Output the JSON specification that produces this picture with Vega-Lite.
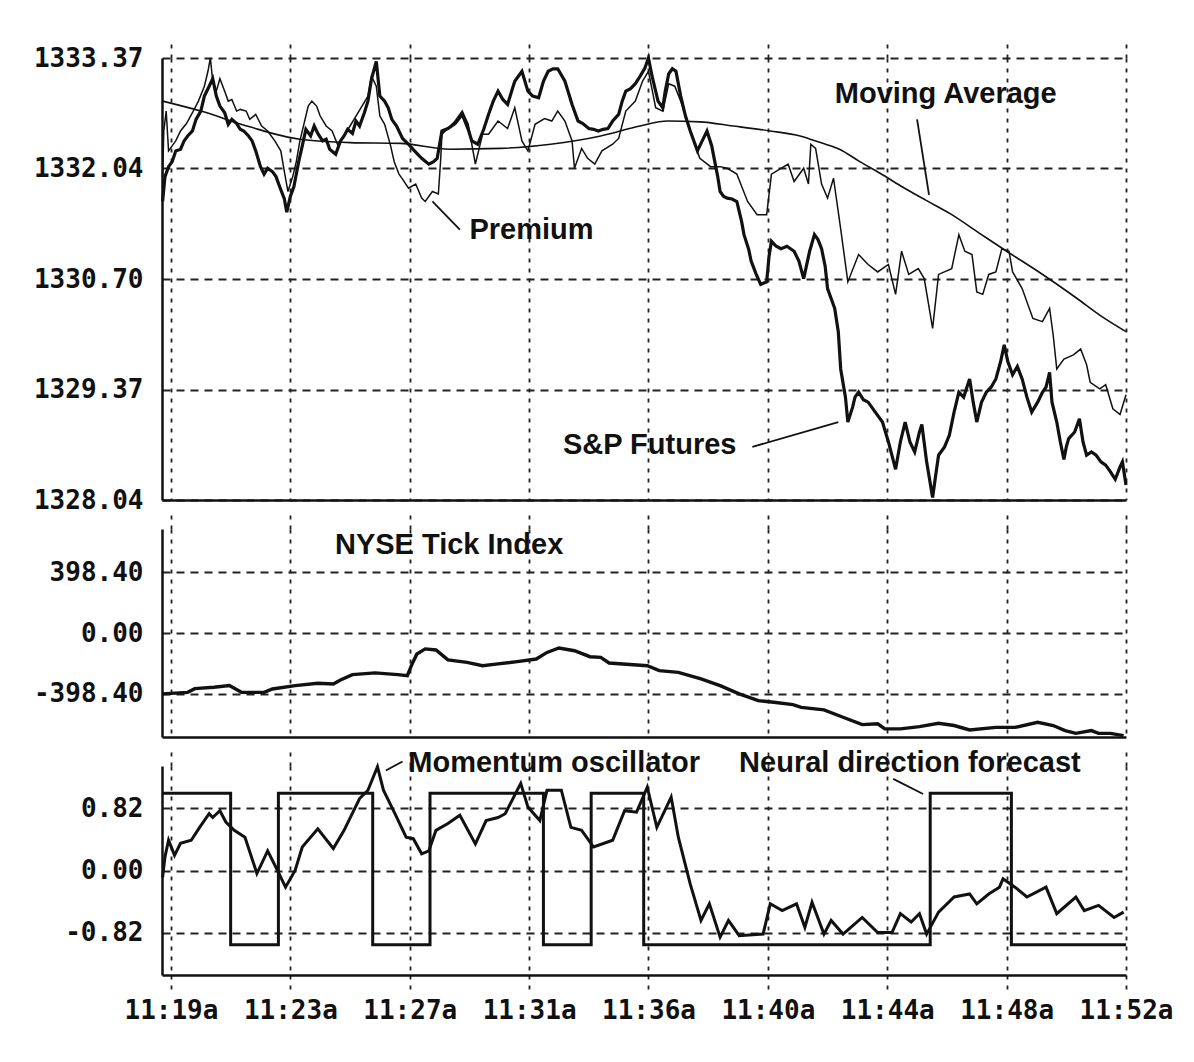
{
  "$schema": "https://vega.github.io/schema/vega-lite/v6.json",
  "background": "white",
  "padding": {"left": 33, "top": 41, "right": 10, "bottom": 10},
  "bounds": "flush",
  "spacing": 29,
  "config": {
    "view": {"stroke": null},
    "axis": {"domainColor": "#111", "domainWidth": 2.5, "gridColor": "#222", "gridWidth": 1.8, "labelFont": "DejaVu Sans Mono", "labelFontSize": 26, "labelFontWeight": "bold", "labelColor": "#111"}
  },
  "datasets": {
    "sp": [{"x":-7,"v":1331.64},{"x":-5,"v":1331.94},{"x":-2,"v":1332.06},{"x":1,"v":1332.12},{"x":4,"v":1332.25},{"x":8,"v":1332.27},{"x":11,"v":1332.37},{"x":14,"v":1332.43},{"x":18,"v":1332.49},{"x":21,"v":1332.63},{"x":25,"v":1332.73},{"x":28,"v":1332.91},{"x":31,"v":1333.0},{"x":35,"v":1333.12},{"x":38,"v":1332.91},{"x":41,"v":1332.79},{"x":45,"v":1332.71},{"x":48,"v":1332.57},{"x":51,"v":1332.63},{"x":55,"v":1332.58},{"x":58,"v":1332.51},{"x":61,"v":1332.49},{"x":65,"v":1332.43},{"x":68,"v":1332.37},{"x":71,"v":1332.25},{"x":75,"v":1332.06},{"x":78,"v":1331.97},{"x":81,"v":1332.04},{"x":85,"v":1332.0},{"x":88,"v":1331.94},{"x":91,"v":1331.82},{"x":95,"v":1331.67},{"x":97,"v":1331.51},{"x":100,"v":1331.7},{"x":103,"v":1331.82},{"x":107,"v":1332.12},{"x":110,"v":1332.31},{"x":113,"v":1332.51},{"x":117,"v":1332.43},{"x":120,"v":1332.55},{"x":123,"v":1332.46},{"x":127,"v":1332.37},{"x":130,"v":1332.39},{"x":133,"v":1332.27},{"x":138,"v":1332.21},{"x":142,"v":1332.37},{"x":145,"v":1332.43},{"x":148,"v":1332.51},{"x":152,"v":1332.46},{"x":155,"v":1332.61},{"x":158,"v":1332.55},{"x":162,"v":1332.71},{"x":165,"v":1332.85},{"x":168,"v":1333.12},{"x":172,"v":1333.33},{"x":175,"v":1332.91},{"x":179,"v":1332.85},{"x":182,"v":1332.77},{"x":185,"v":1332.63},{"x":189,"v":1332.55},{"x":194,"v":1332.4},{"x":199,"v":1332.33},{"x":204,"v":1332.25},{"x":210,"v":1332.16},{"x":216,"v":1332.09},{"x":220,"v":1332.12},{"x":223,"v":1332.16},{"x":227,"v":1332.49},{"x":232,"v":1332.52},{"x":238,"v":1332.58},{"x":244,"v":1332.69},{"x":249,"v":1332.51},{"x":252,"v":1332.37},{"x":257,"v":1332.33},{"x":262,"v":1332.51},{"x":266,"v":1332.69},{"x":270,"v":1332.85},{"x":274,"v":1332.97},{"x":278,"v":1332.87},{"x":282,"v":1332.81},{"x":286,"v":1333.0},{"x":288,"v":1333.09},{"x":294,"v":1333.21},{"x":299,"v":1332.97},{"x":303,"v":1332.91},{"x":308,"v":1332.89},{"x":312,"v":1333.09},{"x":316,"v":1333.21},{"x":320,"v":1333.24},{"x":324,"v":1333.24},{"x":330,"v":1333.09},{"x":336,"v":1332.81},{"x":341,"v":1332.61},{"x":345,"v":1332.58},{"x":350,"v":1332.52},{"x":354,"v":1332.51},{"x":358,"v":1332.49},{"x":362,"v":1332.51},{"x":366,"v":1332.52},{"x":370,"v":1332.61},{"x":375,"v":1332.69},{"x":378,"v":1332.85},{"x":381,"v":1332.97},{"x":385,"v":1333.0},{"x":389,"v":1333.06},{"x":393,"v":1333.15},{"x":397,"v":1333.25},{"x":400,"v":1333.37},{"x":403,"v":1333.15},{"x":406,"v":1332.97},{"x":408,"v":1332.85},{"x":412,"v":1332.77},{"x":414,"v":1332.97},{"x":417,"v":1333.18},{"x":420,"v":1333.24},{"x":423,"v":1333.21},{"x":427,"v":1332.91},{"x":431,"v":1332.67},{"x":435,"v":1332.49},{"x":441,"v":1332.25},{"x":445,"v":1332.37},{"x":449,"v":1332.49},{"x":453,"v":1332.31},{"x":455,"v":1332.16},{"x":458,"v":1331.94},{"x":460,"v":1331.76},{"x":463,"v":1331.7},{"x":466,"v":1331.68},{"x":470,"v":1331.67},{"x":474,"v":1331.64},{"x":478,"v":1331.4},{"x":480,"v":1331.24},{"x":484,"v":1331.06},{"x":486,"v":1330.92},{"x":490,"v":1330.77},{"x":494,"v":1330.64},{"x":499,"v":1330.67},{"x":501,"v":1330.98},{"x":503,"v":1331.16},{"x":507,"v":1331.1},{"x":511,"v":1331.07},{"x":516,"v":1331.1},{"x":522,"v":1331.04},{"x":526,"v":1330.92},{"x":530,"v":1330.71},{"x":535,"v":1331.04},{"x":539,"v":1331.24},{"x":542,"v":1331.18},{"x":545,"v":1331.07},{"x":548,"v":1330.86},{"x":550,"v":1330.59},{"x":554,"v":1330.43},{"x":556,"v":1330.35},{"x":559,"v":1330.07},{"x":561,"v":1329.62},{"x":565,"v":1329.28},{"x":567,"v":1328.98},{"x":571,"v":1329.16},{"x":573,"v":1329.28},{"x":576,"v":1329.34},{"x":580,"v":1329.25},{"x":584,"v":1329.22},{"x":590,"v":1329.1},{"x":596,"v":1328.98},{"x":601,"v":1328.74},{"x":607,"v":1328.41},{"x":611,"v":1328.74},{"x":615,"v":1328.98},{"x":619,"v":1328.74},{"x":623,"v":1328.62},{"x":627,"v":1328.86},{"x":629,"v":1328.95},{"x":633,"v":1328.5},{"x":638,"v":1328.07},{"x":641,"v":1328.38},{"x":643,"v":1328.58},{"x":648,"v":1328.68},{"x":652,"v":1328.82},{"x":656,"v":1329.1},{"x":660,"v":1329.34},{"x":664,"v":1329.28},{"x":669,"v":1329.5},{"x":672,"v":1329.22},{"x":675,"v":1328.98},{"x":679,"v":1329.22},{"x":683,"v":1329.34},{"x":687,"v":1329.4},{"x":691,"v":1329.5},{"x":695,"v":1329.71},{"x":698,"v":1329.91},{"x":701,"v":1329.71},{"x":705,"v":1329.55},{"x":709,"v":1329.65},{"x":713,"v":1329.5},{"x":717,"v":1329.28},{"x":721,"v":1329.1},{"x":726,"v":1329.22},{"x":730,"v":1329.34},{"x":733,"v":1329.4},{"x":736,"v":1329.58},{"x":738,"v":1329.22},{"x":742,"v":1328.98},{"x":745,"v":1328.74},{"x":748,"v":1328.53},{"x":750,"v":1328.68},{"x":752,"v":1328.78},{"x":757,"v":1328.86},{"x":761,"v":1329.02},{"x":764,"v":1328.74},{"x":767,"v":1328.58},{"x":771,"v":1328.62},{"x":775,"v":1328.58},{"x":779,"v":1328.5},{"x":783,"v":1328.46},{"x":787,"v":1328.38},{"x":791,"v":1328.29},{"x":795,"v":1328.44},{"x":797,"v":1328.5},{"x":800,"v":1328.22}],
    "pr": [{"x":-7,"v":1331.94},{"x":-6,"v":1332.49},{"x":-4,"v":1332.73},{"x":-2,"v":1332.25},{"x":1,"v":1332.31},{"x":4,"v":1332.37},{"x":8,"v":1332.49},{"x":13,"v":1332.58},{"x":18,"v":1332.71},{"x":23,"v":1332.85},{"x":28,"v":1333.03},{"x":31,"v":1333.21},{"x":33,"v":1333.37},{"x":35,"v":1333.09},{"x":38,"v":1332.97},{"x":41,"v":1333.12},{"x":45,"v":1332.97},{"x":48,"v":1332.85},{"x":51,"v":1332.87},{"x":55,"v":1332.73},{"x":58,"v":1332.75},{"x":63,"v":1332.73},{"x":66,"v":1332.63},{"x":71,"v":1332.69},{"x":76,"v":1332.55},{"x":81,"v":1332.49},{"x":87,"v":1332.37},{"x":92,"v":1332.25},{"x":95,"v":1332.0},{"x":98,"v":1331.76},{"x":102,"v":1331.94},{"x":105,"v":1332.12},{"x":108,"v":1332.37},{"x":112,"v":1332.61},{"x":115,"v":1332.79},{"x":118,"v":1332.85},{"x":122,"v":1332.79},{"x":125,"v":1332.67},{"x":130,"v":1332.55},{"x":135,"v":1332.49},{"x":140,"v":1332.31},{"x":145,"v":1332.43},{"x":150,"v":1332.55},{"x":155,"v":1332.67},{"x":160,"v":1332.79},{"x":165,"v":1332.91},{"x":168,"v":1333.15},{"x":172,"v":1333.03},{"x":175,"v":1332.67},{"x":179,"v":1332.57},{"x":184,"v":1332.31},{"x":187,"v":1332.12},{"x":191,"v":1331.97},{"x":194,"v":1331.91},{"x":199,"v":1331.8},{"x":205,"v":1331.85},{"x":210,"v":1331.68},{"x":213,"v":1331.64},{"x":219,"v":1331.76},{"x":224,"v":1331.73},{"x":226,"v":1332.16},{"x":227,"v":1332.45},{"x":232,"v":1332.52},{"x":238,"v":1332.61},{"x":244,"v":1332.73},{"x":249,"v":1332.57},{"x":255,"v":1332.09},{"x":261,"v":1332.45},{"x":266,"v":1332.45},{"x":274,"v":1332.61},{"x":282,"v":1332.52},{"x":288,"v":1332.77},{"x":294,"v":1332.37},{"x":299,"v":1332.25},{"x":305,"v":1332.57},{"x":313,"v":1332.64},{"x":319,"v":1332.61},{"x":324,"v":1332.73},{"x":330,"v":1332.61},{"x":336,"v":1332.37},{"x":338,"v":1332.04},{"x":344,"v":1332.28},{"x":349,"v":1332.16},{"x":355,"v":1332.09},{"x":361,"v":1332.25},{"x":370,"v":1332.33},{"x":375,"v":1332.4},{"x":381,"v":1332.73},{"x":389,"v":1332.85},{"x":395,"v":1333.09},{"x":400,"v":1333.21},{"x":406,"v":1332.77},{"x":412,"v":1332.73},{"x":417,"v":1333.06},{"x":422,"v":1333.03},{"x":427,"v":1332.85},{"x":435,"v":1332.49},{"x":443,"v":1332.16},{"x":452,"v":1332.06},{"x":460,"v":1332.06},{"x":466,"v":1332.04},{"x":474,"v":1331.97},{"x":483,"v":1331.64},{"x":491,"v":1331.48},{"x":499,"v":1331.48},{"x":503,"v":1331.97},{"x":511,"v":1332.04},{"x":517,"v":1332.09},{"x":522,"v":1331.88},{"x":530,"v":1332.04},{"x":534,"v":1331.85},{"x":536,"v":1332.33},{"x":540,"v":1332.28},{"x":545,"v":1331.85},{"x":550,"v":1331.68},{"x":555,"v":1331.92},{"x":561,"v":1331.31},{"x":567,"v":1330.67},{"x":576,"v":1331.0},{"x":584,"v":1330.88},{"x":592,"v":1330.79},{"x":601,"v":1330.88},{"x":607,"v":1330.52},{"x":612,"v":1331.04},{"x":618,"v":1330.76},{"x":626,"v":1330.83},{"x":631,"v":1330.71},{"x":638,"v":1330.11},{"x":643,"v":1330.76},{"x":654,"v":1330.83},{"x":660,"v":1331.24},{"x":665,"v":1331.04},{"x":671,"v":1331.0},{"x":675,"v":1330.55},{"x":680,"v":1330.52},{"x":685,"v":1330.76},{"x":691,"v":1330.79},{"x":696,"v":1331.07},{"x":702,"v":1331.04},{"x":705,"v":1330.79},{"x":713,"v":1330.59},{"x":722,"v":1330.23},{"x":730,"v":1330.19},{"x":736,"v":1330.35},{"x":739,"v":1330.03},{"x":742,"v":1329.62},{"x":748,"v":1329.74},{"x":756,"v":1329.79},{"x":762,"v":1329.86},{"x":767,"v":1329.67},{"x":770,"v":1329.46},{"x":778,"v":1329.38},{"x":783,"v":1329.43},{"x":789,"v":1329.14},{"x":795,"v":1329.07},{"x":800,"v":1329.31}],
    "ma": [{"x":-7,"v":1332.85},{"x":25,"v":1332.73},{"x":66,"v":1332.54},{"x":108,"v":1332.39},{"x":150,"v":1332.35},{"x":192,"v":1332.34},{"x":234,"v":1332.27},{"x":276,"v":1332.28},{"x":318,"v":1332.33},{"x":360,"v":1332.43},{"x":393,"v":1332.55},{"x":416,"v":1332.61},{"x":443,"v":1332.6},{"x":471,"v":1332.55},{"x":502,"v":1332.49},{"x":527,"v":1332.43},{"x":544,"v":1332.35},{"x":560,"v":1332.27},{"x":577,"v":1332.12},{"x":594,"v":1331.98},{"x":611,"v":1331.83},{"x":633,"v":1331.65},{"x":653,"v":1331.49},{"x":678,"v":1331.25},{"x":700,"v":1331.04},{"x":728,"v":1330.78},{"x":759,"v":1330.47},{"x":778,"v":1330.27},{"x":800,"v":1330.07}],
    "tick": [{"x":-7,"v":-398},{"x":14,"v":-388},{"x":20,"v":-364},{"x":36,"v":-355},{"x":49,"v":-344},{"x":59,"v":-388},{"x":78,"v":-388},{"x":85,"v":-366},{"x":104,"v":-344},{"x":123,"v":-329},{"x":136,"v":-333},{"x":142,"v":-307},{"x":152,"v":-272},{"x":171,"v":-261},{"x":190,"v":-272},{"x":198,"v":-279},{"x":202,"v":-202},{"x":206,"v":-137},{"x":213,"v":-104},{"x":222,"v":-111},{"x":232,"v":-176},{"x":248,"v":-192},{"x":261,"v":-214},{"x":274,"v":-202},{"x":290,"v":-187},{"x":306,"v":-170},{"x":315,"v":-127},{"x":325,"v":-98},{"x":338,"v":-116},{"x":351,"v":-155},{"x":360,"v":-159},{"x":367,"v":-196},{"x":399,"v":-214},{"x":409,"v":-246},{"x":425,"v":-257},{"x":444,"v":-300},{"x":460,"v":-344},{"x":476,"v":-398},{"x":492,"v":-442},{"x":505,"v":-453},{"x":521,"v":-468},{"x":528,"v":-486},{"x":547,"v":-503},{"x":563,"v":-551},{"x":579,"v":-599},{"x":592,"v":-594},{"x":598,"v":-627},{"x":611,"v":-627},{"x":627,"v":-612},{"x":643,"v":-590},{"x":656,"v":-605},{"x":669,"v":-634},{"x":691,"v":-617},{"x":707,"v":-617},{"x":726,"v":-584},{"x":739,"v":-605},{"x":749,"v":-638},{"x":758,"v":-656},{"x":771,"v":-638},{"x":777,"v":-656},{"x":787,"v":-656},{"x":798,"v":-671}],
    "mom": [{"x":-7,"v":-0.09},{"x":-5,"v":0.18},{"x":-2,"v":0.4},{"x":3,"v":0.2},{"x":8,"v":0.36},{"x":17,"v":0.4},{"x":24,"v":0.57},{"x":32,"v":0.75},{"x":35,"v":0.7},{"x":41,"v":0.79},{"x":46,"v":0.64},{"x":53,"v":0.53},{"x":62,"v":0.44},{"x":72,"v":-0.04},{"x":81,"v":0.26},{"x":88,"v":0.04},{"x":96,"v":-0.22},{"x":104,"v":0.0},{"x":110,"v":0.31},{"x":123,"v":0.55},{"x":136,"v":0.29},{"x":145,"v":0.53},{"x":158,"v":0.95},{"x":165,"v":1.06},{"x":173,"v":1.37},{"x":178,"v":1.06},{"x":187,"v":0.77},{"x":197,"v":0.44},{"x":203,"v":0.42},{"x":210,"v":0.22},{"x":216,"v":0.26},{"x":222,"v":0.53},{"x":232,"v":0.62},{"x":242,"v":0.73},{"x":255,"v":0.35},{"x":264,"v":0.66},{"x":274,"v":0.7},{"x":280,"v":0.75},{"x":293,"v":1.15},{"x":299,"v":0.84},{"x":309,"v":0.66},{"x":315,"v":1.06},{"x":327,"v":1.06},{"x":335,"v":0.57},{"x":344,"v":0.53},{"x":354,"v":0.31},{"x":370,"v":0.4},{"x":380,"v":0.79},{"x":390,"v":0.77},{"x":399,"v":1.1},{"x":407,"v":0.57},{"x":419,"v":0.97},{"x":425,"v":0.44},{"x":435,"v":-0.18},{"x":444,"v":-0.66},{"x":451,"v":-0.44},{"x":460,"v":-0.88},{"x":467,"v":-0.66},{"x":476,"v":-0.86},{"x":496,"v":-0.84},{"x":502,"v":-0.44},{"x":512,"v":-0.53},{"x":524,"v":-0.44},{"x":531,"v":-0.75},{"x":537,"v":-0.42},{"x":547,"v":-0.84},{"x":553,"v":-0.66},{"x":563,"v":-0.84},{"x":579,"v":-0.62},{"x":592,"v":-0.82},{"x":604,"v":-0.82},{"x":611,"v":-0.57},{"x":620,"v":-0.68},{"x":627,"v":-0.57},{"x":633,"v":-0.84},{"x":643,"v":-0.55},{"x":656,"v":-0.35},{"x":669,"v":-0.31},{"x":675,"v":-0.44},{"x":685,"v":-0.31},{"x":694,"v":-0.22},{"x":697,"v":-0.11},{"x":707,"v":-0.22},{"x":717,"v":-0.35},{"x":733,"v":-0.22},{"x":742,"v":-0.57},{"x":758,"v":-0.35},{"x":765,"v":-0.53},{"x":777,"v":-0.46},{"x":790,"v":-0.62},{"x":798,"v":-0.55}],
    "nd": [{"x":-7,"v":1.02},{"x":50,"v":-0.98},{"x":90,"v":1.02},{"x":169,"v":-0.98},{"x":217,"v":1.02},{"x":312,"v":-0.98},{"x":352,"v":1.02},{"x":396,"v":-0.98},{"x":636,"v":1.02},{"x":704,"v":-0.98},{"x":800,"v":-0.98}],
    "topText": [{"x":649,"v":1332.935,"t":"Moving Average"},{"x":302,"v":1331.29,"t":"Premium"},{"x":401,"v":1328.709,"t":"S&P Futures"}],
    "topLead": [{"x":625,"v":1332.63,"x2":635,"v2":1331.72},{"x":219,"v":1331.64,"x2":242,"v2":1331.3},{"x":487,"v":1328.68,"x2":559,"v2":1328.98}],
    "midText": [{"x":233,"v":577,"t":"NYSE Tick Index"}],
    "botText": [{"x":321,"v":1.415,"t":"Momentum oscillator"},{"x":619,"v":1.415,"t":"Neural direction forecast"}],
    "botLead": [{"x":180,"v":1.32,"x2":194,"v2":1.44},{"x":605,"v":1.21,"x2":630,"v2":1.01}]
  },
  "vconcat": [
    {
      "width": 964,
      "height": 442,
      "resolve": {"axis": {"x": "independent"}},
      "encoding": {
        "y": {"field": "v", "type": "quantitative", "scale": {"domain": [1328.04, 1333.37], "nice": false, "zero": false},
              "axis": {"values": [1328.04, 1329.37, 1330.70, 1332.04, 1333.37], "labelExpr": "format(datum.value, '.2f')", "grid": true, "gridDash": [8,6], "ticks": false, "domain": true, "labelPadding": 19, "labelFlush": false, "labelOverlap": false, "title": null}}
      },
      "layer": [
        {
          "data": {"name": "ma"},
          "mark": {"type": "line", "color": "#111", "strokeWidth": 1.6, "interpolate": "monotone"},
          "encoding": {
            "x": {"field": "x", "type": "quantitative", "scale": {"domain": [-7.5, 800], "nice": false, "zero": false},
                  "axis": {"orient": "bottom", "values": [0,100,200,300,400,500,600,700,800], "labels": false, "ticks": false, "domain": true, "grid": true, "gridDash": [4,6], "title": null}}
          }
        },
        {
          "data": {"name": "pr"},
          "mark": {"type": "line", "color": "#111", "strokeWidth": 1.5},
          "encoding": {"x": {"field": "x", "type": "quantitative", "axis": null}}
        },
        {
          "data": {"name": "sp"},
          "mark": {"type": "line", "color": "#111", "strokeWidth": 3.2},
          "encoding": {"x": {"field": "x", "type": "quantitative", "axis": null}}
        },
        {
          "data": {"name": "topLead"},
          "mark": {"type": "rule", "color": "#111", "strokeWidth": 1.8},
          "encoding": {
            "x": {"field": "x", "type": "quantitative", "axis": null},
            "x2": {"field": "x2"},
            "y2": {"field": "v2"}
          }
        },
        {
          "data": {"name": "topText"},
          "mark": {"type": "text", "font": "Liberation Sans", "fontWeight": "bold", "fontSize": 29, "color": "#111", "align": "center", "baseline": "middle"},
          "encoding": {
            "x": {"field": "x", "type": "quantitative",
                  "axis": {"orient": "top", "values": [0,100,200,300,400,500,600,700,800], "labels": false, "ticks": true, "tickSize": 16, "tickDash": [4,6], "tickWidth": 1.8, "tickColor": "#222", "domain": false, "grid": false, "title": null}},
            "text": {"field": "t"}
          }
        }
      ]
    },
    {
      "width": 964,
      "height": 208,
      "resolve": {"axis": {"x": "independent"}},
      "encoding": {
        "y": {"field": "v", "type": "quantitative", "scale": {"domain": [-680, 680], "nice": false, "zero": false},
              "axis": {"values": [-398.4, 0, 398.4], "labelExpr": "(datum.value < 0 ? '-' : '') + format(abs(datum.value), '.2f')", "grid": true, "gridDash": [8,6], "ticks": false, "domain": true, "labelPadding": 19, "labelFlush": false, "labelOverlap": false, "title": null}}
      },
      "layer": [
        {
          "data": {"name": "tick"},
          "mark": {"type": "line", "color": "#111", "strokeWidth": 3.4},
          "encoding": {
            "x": {"field": "x", "type": "quantitative", "scale": {"domain": [-7.5, 800], "nice": false, "zero": false},
                  "axis": {"orient": "bottom", "values": [0,100,200,300,400,500,600,700,800], "labels": false, "ticks": false, "domain": true, "grid": true, "gridDash": [4,6], "title": null}}
          }
        },
        {
          "data": {"name": "midText"},
          "mark": {"type": "text", "font": "Liberation Sans", "fontWeight": "bold", "fontSize": 29, "color": "#111", "align": "center", "baseline": "middle"},
          "encoding": {
            "x": {"field": "x", "type": "quantitative",
                  "axis": {"orient": "top", "values": [0,100,200,300,400,500,600,700,800], "labels": false, "ticks": true, "tickSize": 16, "tickDash": [4,6], "tickWidth": 1.8, "tickColor": "#222", "domain": false, "grid": false, "title": null}},
            "text": {"field": "t"}
          }
        }
      ]
    },
    {
      "width": 964,
      "height": 209,
      "resolve": {"axis": {"x": "independent"}},
      "encoding": {
        "y": {"field": "v", "type": "quantitative", "scale": {"domain": [-1.38, 1.38], "nice": false, "zero": false},
              "axis": {"values": [-0.82, 0, 0.82], "labelExpr": "(datum.value < 0 ? '-' : '') + format(abs(datum.value), '.2f')", "grid": true, "gridDash": [8,6], "ticks": false, "domain": true, "labelPadding": 19, "labelFlush": false, "labelOverlap": false, "title": null}}
      },
      "layer": [
        {
          "data": {"name": "nd"},
          "mark": {"type": "line", "color": "#111", "strokeWidth": 3, "interpolate": "step-after"},
          "encoding": {
            "x": {"field": "x", "type": "quantitative", "scale": {"domain": [-7.5, 800], "nice": false, "zero": false},
                  "axis": {"orient": "bottom", "values": [0,100,200,300,400,500,600,700,800], "labelExpr": "['11:19a','11:23a','11:27a','11:31a','11:36a','11:40a','11:44a','11:48a','11:52a'][round(datum.value/100)]", "labelFlush": false, "labelOverlap": false, "ticks": true, "tickSize": 14, "tickDash": [4,6], "tickWidth": 1.8, "tickColor": "#222", "labelPadding": 8, "domain": true, "grid": true, "gridDash": [4,6], "title": null}}
          }
        },
        {
          "data": {"name": "mom"},
          "mark": {"type": "line", "color": "#111", "strokeWidth": 3},
          "encoding": {"x": {"field": "x", "type": "quantitative", "axis": null}}
        },
        {
          "data": {"name": "botLead"},
          "mark": {"type": "rule", "color": "#111", "strokeWidth": 1.8},
          "encoding": {
            "x": {"field": "x", "type": "quantitative", "axis": null},
            "x2": {"field": "x2"},
            "y2": {"field": "v2"}
          }
        },
        {
          "data": {"name": "botText"},
          "mark": {"type": "text", "font": "Liberation Sans", "fontWeight": "bold", "fontSize": 29, "color": "#111", "align": "center", "baseline": "middle"},
          "encoding": {
            "x": {"field": "x", "type": "quantitative",
                  "axis": {"orient": "top", "values": [0,100,200,300,400,500,600,700,800], "labels": false, "ticks": true, "tickSize": 16, "tickDash": [4,6], "tickWidth": 1.8, "tickColor": "#222", "domain": false, "grid": false, "title": null}},
            "text": {"field": "t"}
          }
        }
      ]
    }
  ]
}
